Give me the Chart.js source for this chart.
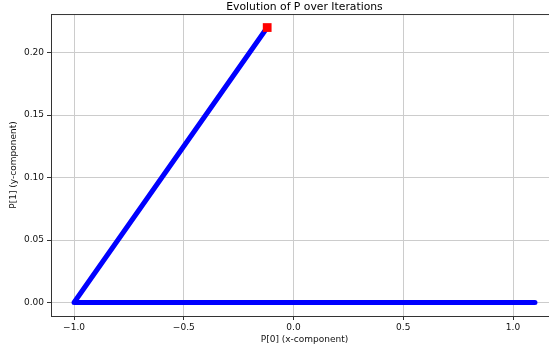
<!DOCTYPE html>
<html>
<head>
<meta charset="utf-8">
<script src="https://cdn.jsdelivr.net/npm/chart.js@4"></script>
<style>
  html, body { margin: 0; padding: 0; background: #fff; overflow: hidden; }
  #wrap { width: 549px; height: 354px; overflow: hidden; }
</style>
</head>
<body>
<div id="wrap"><canvas id="pChart" width="608" height="354"></canvas></div>
<script>
// path of P (start -> end)
var pX = [1.1, -1.0, -0.12];
var pY = [0.0, 0.0, 0.22];
var xTicks = [-1.0, -0.5, 0.0, 0.5, 1.0];
var yTicks = [0.00, 0.05, 0.10, 0.15, 0.20];

var pathPts = pX.map(function (x, i) { return {x: x, y: pY[i]}; });
var lastPt = pathPts[pathPts.length - 1];

var FONT = "'DejaVu Sans', sans-serif";
var SPINE = '#333333';

// top + right spine, chart.js has no option for it
var spinePlugin = {
  id: 'spines',
  afterDraw: function (chart) {
    var a = chart.chartArea, ctx = chart.ctx;
    ctx.save();
    ctx.strokeStyle = SPINE;
    ctx.lineWidth = 1;
    ctx.beginPath();
    ctx.moveTo(a.left, a.top + 0.5);
    ctx.lineTo(a.right, a.top + 0.5);
    ctx.moveTo(a.right - 0.5, a.top);
    ctx.lineTo(a.right - 0.5, a.bottom);
    ctx.stroke();
    ctx.restore();
  }
};

function minus(v, d) {
  return v.toFixed(d).replace('-', '\u2212');
}

new Chart(document.getElementById('pChart'), {
  type: 'scatter',
  data: {
    datasets: [{
      label: 'end',
      data: [lastPt],
      pointStyle: 'rect',
      pointRadius: 6.2,
      backgroundColor: '#ff0000',
      borderColor: '#ff0000',
      borderWidth: 0,
      order: 0
    }, {
      label: 'P',
      data: pathPts,
      showLine: true,
      borderColor: '#0000ff',
      backgroundColor: '#0000ff',
      borderWidth: 5,
      borderCapStyle: 'round',
      borderJoinStyle: 'round',
      pointRadius: 0,
      order: 1
    }]
  },
  options: {
    responsive: false,
    animation: false,
    layout: { padding: { left: 0, right: 50, top: 0, bottom: 0 } },
    plugins: {
      legend: { display: false },
      tooltip: { enabled: false },
      title: {
        display: true,
        fullSize: false,
        text: 'Evolution of P over Iterations',
        color: '#000',
        font: { family: FONT, size: 10.8, weight: 'normal', lineHeight: 1.3 },
        padding: { top: 0, bottom: 0 }
      }
    },
    scales: {
      x: {
        type: 'linear',
        min: -1.105,
        max: 1.205,
        afterFit: function (s) { s.height = 38; },
        border: { color: SPINE, width: 1 },
        grid: { color: '#cccccc', lineWidth: 1, tickColor: SPINE, tickLength: 4 },
        ticks: {
          stepSize: 0.5,
          includeBounds: false,
          maxRotation: 0,
          padding: 2,
          color: '#111',
          font: { family: FONT, size: 9 },
          callback: function (v) { return minus(v, 1); }
        },
        title: {
          display: true,
          text: 'P[0] (x-component)',
          color: '#111',
          font: { family: FONT, size: 9 },
          padding: { top: 0, bottom: 8.6 }
        }
      },
      y: {
        type: 'linear',
        min: -0.0108,
        max: 0.2308,
        afterFit: function (s) { s.width = 51; },
        border: { color: SPINE, width: 1 },
        grid: { color: '#cccccc', lineWidth: 1, tickColor: SPINE, tickLength: 4 },
        ticks: {
          stepSize: 0.05,
          includeBounds: false,
          padding: 3,
          color: '#111',
          font: { family: FONT, size: 9 },
          callback: function (v) { return minus(v, 2); }
        },
        title: {
          display: true,
          text: 'P[1] (y-component)',
          color: '#111',
          font: { family: FONT, size: 9 },
          padding: { top: 8.6, bottom: 0 }
        }
      }
    }
  },
  plugins: [spinePlugin]
});
</script>
</body>
</html>
